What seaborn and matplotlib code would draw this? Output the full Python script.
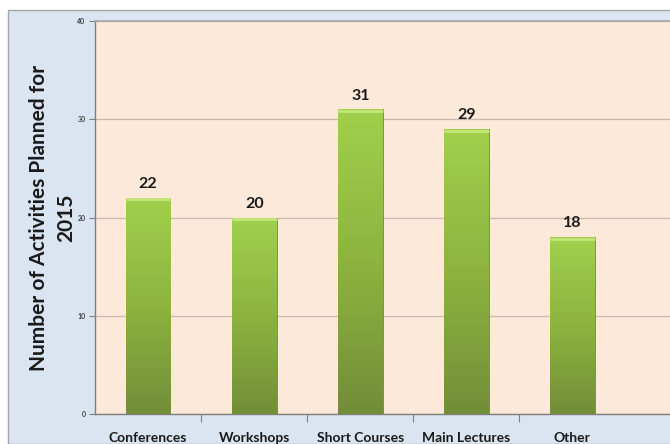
import matplotlib
matplotlib.use('Agg')
import matplotlib.pyplot as plt
import seaborn as sns
import numpy as np
import pandas as pd
from matplotlib.patches import Rectangle
from matplotlib.colors import LinearSegmentedColormap

# data
categories = ["Conferences", "Workshops", "Short Courses", "Main Lectures", "Other"]
activities = [22, 20, 31, 29, 18]
y_ticks = [0, 10, 20, 30, 40]

sns.set_theme(style="white")
plt.rcParams['font.family'] = ['Lato', 'DejaVu Sans']

df = pd.DataFrame({"Category": categories, "Activities": activities})

fig = plt.figure(figsize=(6.7, 4.44), dpi=100)
fig.patch.set_facecolor("white")
# outer chart area (light blue), behind the axes
bg = Rectangle((0.012, 0.0), 0.99, 0.977, transform=fig.transFigure,
               facecolor="#dbe5f1", edgecolor="#a6a6a6", lw=1.0, zorder=-5)
fig.add_artist(bg)

ax = fig.add_axes([0.142, 0.0676, 0.858, 0.885])
ax.set_facecolor("#fde9d9")

sns.barplot(data=df, x="Category", y="Activities", color="#8db53c", width=0.42,
            ax=ax, edgecolor="#6f8f2e", linewidth=0.6, zorder=3)

# vertical gradient on each bar
cmap = LinearSegmentedColormap.from_list("grn", ["#728e38", "#8cb43f", "#a0d04c"])
grad = np.linspace(0, 1, 256).reshape(-1, 1)
for p in list(ax.patches):
    x0, y0 = p.get_x(), p.get_y()
    w, h = p.get_width(), p.get_height()
    im = ax.imshow(grad, extent=[x0, x0 + w, y0, y0 + h], origin="lower",
                   cmap=cmap, aspect="auto", zorder=3.5)
    im.set_clip_path(p)
    # light rim on top
    ax.plot([x0, x0 + w], [y0 + h - 0.15, y0 + h - 0.15], color="#c5e57a", lw=2, zorder=4,
            solid_capstyle="butt")
    ax.annotate(str(int(h)), (x0 + w / 2, y0 + h), xytext=(0, 5), textcoords="offset points",
                ha="center", va="bottom", fontsize=11.5, fontweight="bold", color="#1a1a1a")

ax.set_xlim(-0.5, 4.92)
ax.set_ylim(0, 40)
ax.set_yticks(y_ticks)
ax.set_yticklabels([str(t) for t in y_ticks], fontsize=5, fontweight="bold", color="#404040")
ax.yaxis.grid(True, color="#c8b8ae", lw=0.9, zorder=1)
ax.set_axisbelow(True)

ax.set_xticks(range(len(categories)))
ax.set_xticklabels(categories, fontsize=10, fontweight="bold", color="#1a1a1a")
ax.set_xticks([0.5, 1.5, 2.5, 3.5], minor=True)
ax.tick_params(axis="x", which="major", length=0, pad=13)
ax.tick_params(axis="x", which="minor", length=6, width=0.8, color="#808080", direction="out",
               bottom=True)
ax.tick_params(axis="y", length=4, width=0.8, color="#808080", direction="out", left=True, pad=3)

for s in ["left", "bottom"]:
    ax.spines[s].set_color("#7f7f7f")
    ax.spines[s].set_linewidth(1.0)
ax.spines["top"].set_color("#a6a6a6")
ax.spines["right"].set_visible(False)

ax.set_xlabel("")
ax.set_ylabel("Number of Activities Planned for\n2015", fontsize=15, fontweight="bold",
              color="#1a1a1a", labelpad=1, linespacing=1.45)

fig.savefig("out.png", dpi=100)
plt.close(fig)
